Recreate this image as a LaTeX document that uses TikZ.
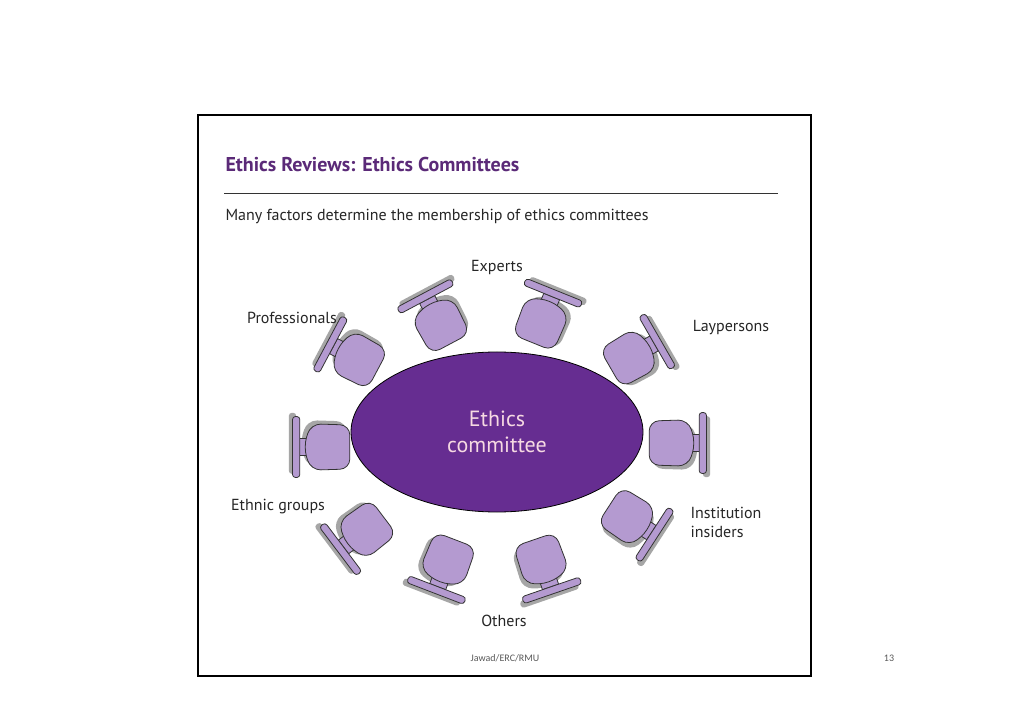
\documentclass[tikz,border=0pt]{standalone}
\usepackage{fontspec}
\usetikzlibrary{shapes.geometric}
\setmainfont{PT Sans}
\newfontfamily\foot{Carlito}
\definecolor{tbl}{HTML}{662D91}
\definecolor{seat}{HTML}{B49AD0}
\definecolor{ttl}{HTML}{5B2A78}
\begin{document}
\begin{tikzpicture}[x=1pt,y=1pt,
  lbl/.style={font=\fontsize{16}{19}\selectfont,text=black!85,align=left},
  chair/.pic={
    \begin{scope}[scale=1.22,shift={(-2,0)}]
    \fill[black!35,rounded corners=10] (-17,-21) -- (-17,15) -- (15,16) -- (21,-3) -- (15,-22) -- cycle;
    \fill[black!35,rounded corners=3] (24,-28) rectangle (30,22);
    \draw[fill=seat,draw=black!80,thick] (14,-7) rectangle (21,7);
    \draw[fill=seat,draw=black!80,thick,rounded corners=3] (21,-25) rectangle (27,25);
    \draw[fill=seat,draw=black!80,thick,rounded corners=10] (-20,-18) -- (-20,18) -- (12,19) -- (18,0) -- (12,-19) -- cycle;
    \end{scope}
  }]
\useasboundingbox (0,0) rectangle (1024,723);
\fill[white] (0,0) rectangle (1024,723);
\draw[line width=2.5pt] (198,608) rectangle (811,47);
\node[anchor=west,font=\bfseries\fontsize{20}{24}\selectfont,text=ttl] (title) at (222,558) {Ethics Reviews: Ethics Committees};
\draw[black!80,line width=0.8pt] (224,530) -- (778,530);
\node[anchor=west,lbl] (sub) at (222,507) {Many factors determine the membership of ethics committees};
\node[ellipse,draw=black,thick,fill=tbl,minimum width=292,minimum height=160,inner sep=0] (table) at (497,291) {};
\node[text=purple!15!white,font=\fontsize{22}{26}\selectfont,align=center] (tt) at (497,291) {Ethics\\committee};
\foreach \x/\y/\a in {438/403/118, 543/405/68, 634/368/30, 676/280/0, 632/203/-33, 543/158/-71, 446/158/-111, 362/190/-143, 323/276/180, 354/366/152}
  \pic[rotate=\a] at (\x,\y) {chair};
\node[lbl] (e) at (497,455) {Experts};
\node[lbl] (p) at (292,405) {Professionals};
\node[lbl] (l) at (731,395) {Laypersons};
\node[lbl] (g) at (278,216) {Ethnic groups};
\node[lbl,align=left] (i) at (726,201) {Institution\\insiders};
\node[lbl] (o) at (504,102) {Others};
\node[font=\foot\fontsize{10}{12}\selectfont,text=black!65] (f) at (505,65) {Jawad/ERC/RMU};
\node[font=\foot\fontsize{10}{12}\selectfont,text=black!65] (n) at (889,65) {13};
\end{tikzpicture}
\end{document}
